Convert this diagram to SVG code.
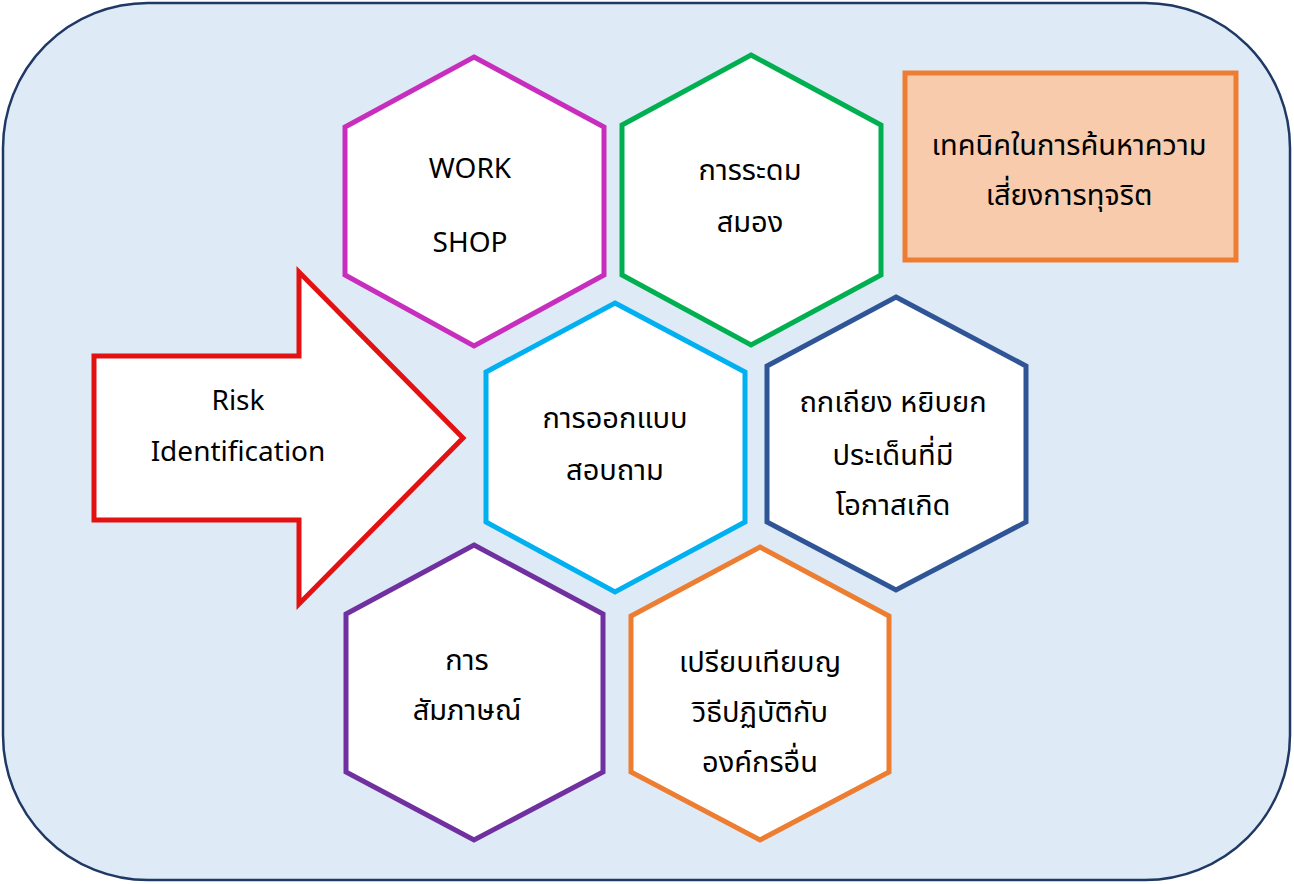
<svg xmlns="http://www.w3.org/2000/svg" width="1294" height="884" viewBox="0 0 1294 884">
<style>
  .hex { fill: #FFFFFF; stroke-width: 5; stroke-linejoin: miter; }
  .t { font-family: "Noto Sans Thai", "Noto Sans", "DejaVu Sans", sans-serif; font-size: 29px; fill: #000000; text-anchor: middle; }
  .e { font-family: "Noto Sans", "DejaVu Sans", sans-serif; font-size: 28px; fill: #000000; text-anchor: middle; }
</style>
<rect id="background" x="3" y="3" width="1287" height="877" rx="145" ry="145" fill="#DEEAF6" stroke="#1F3864" stroke-width="2.5"/>
<g id="connectors"></g>
<g id="arrow-risk">
  <polygon points="94,356 299,356 299,272 463,438 299,604 299,520 94,520" fill="#FFFFFF" stroke="#E31212" stroke-width="5"/>
  <text class="e" x="238" y="410">Risk</text>
  <text class="e" x="238" y="461">Identification</text>
</g>
<g id="hex-workshop">
  <polygon class="hex" stroke="#C82EBE" points="474,57 604,127 604,275 474,346 345,275 345,127"/>
  <text class="e" x="470" y="178">WORK</text>
  <text class="e" x="470" y="252">SHOP</text>
</g>
<g id="hex-brainstorm">
  <polygon class="hex" stroke="#00B050" points="751,55 881,125 881,275 751,345 622,275 622,125"/>
  <text class="t" x="750" y="180">การระดม</text>
  <text class="t" x="750" y="232">สมอง</text>
</g>
<g id="hex-survey">
  <polygon class="hex" stroke="#00B0F0" points="615,303 745,372 745,522 615,592 486,522 486,372"/>
  <text class="t" x="615" y="428">การออกแบบ</text>
  <text class="t" x="615" y="480">สอบถาม</text>
</g>
<g id="hex-debate">
  <polygon class="hex" stroke="#2F5597" points="896,297 1026,366 1026,522 896,590 767,522 767,366"/>
  <text class="t" x="893" y="412">ถกเถียง หยิบยก</text>
  <text class="t" x="893" y="465">ประเด็นที่มี</text>
  <text class="t" x="893" y="515">โอกาสเกิด</text>
</g>
<g id="hex-interview">
  <polygon class="hex" stroke="#7030A0" points="474,545 603,614 603,772 474,840 346,772 346,614"/>
  <text class="t" x="467" y="670">การ</text>
  <text class="t" x="467" y="720">สัมภาษณ์</text>
</g>
<g id="hex-benchmark">
  <polygon class="hex" stroke="#ED7D31" points="760,547 889,616 889,772 760,840 631,772 631,616"/>
  <text class="t" x="760" y="672">เปรียบเทียบญ</text>
  <text class="t" x="760" y="722">วิธีปฏิบัติกับ</text>
  <text class="t" x="760" y="772">องค์กรอื่น</text>
</g>
<g id="title-box">
  <rect x="905" y="73" width="331" height="187" fill="#F8CBAD" stroke="#ED7D31" stroke-width="5"/>
  <text class="t" x="1069" y="155">เทคนิคในการค้นหาความ</text>
  <text class="t" x="1069" y="205">เสี่ยงการทุจริต</text>
</g>
</svg>
